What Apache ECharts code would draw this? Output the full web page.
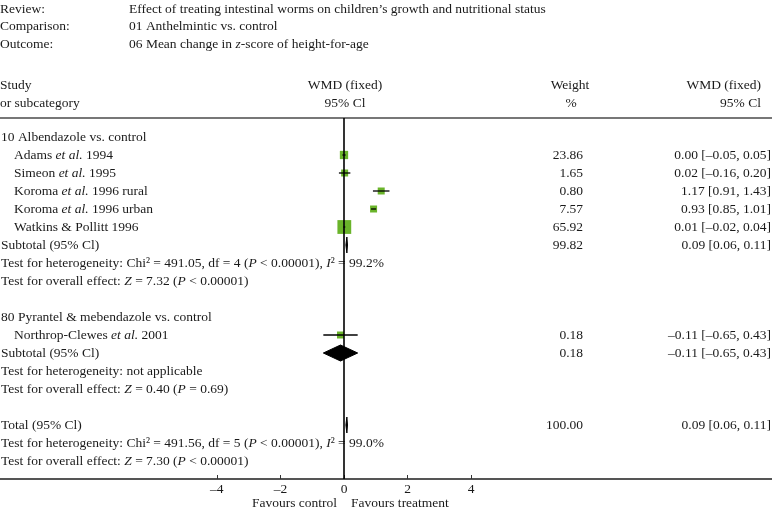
<!DOCTYPE html>
<html><head><meta charset="utf-8">
<script src="https://cdn.jsdelivr.net/npm/echarts@6/dist/echarts.min.js"></script>
<style>html,body{margin:0;padding:0;background:#fff}#c{width:772px;height:511px}</style>
</head><body><div id="c"></div>
<script>
// ---- data ----
const reviewText = 'Effect of treating intestinal worms on children’s growth and nutritional status';
const comparisonText = '01 Anthelmintic vs. control';
const outcomeText = '06 Mean change in z-score of height-for-age';
const studyNames = ['Adams et al. 1994','Simeon et al. 1995','Koroma et al. 1996 rural','Koroma et al. 1996 urban','Watkins & Pollitt 1996','Northrop-Clewes et al. 2001'];
const studyGroup = [0,0,0,0,0,1];
const studyWMD = [0.00,0.02,1.17,0.93,0.01,-0.11];
const studyLow = [-0.05,-0.16,0.91,0.85,-0.02,-0.65];
const studyHigh = [0.05,0.20,1.43,1.01,0.04,0.43];
const studyWeight = [23.86,1.65,0.80,7.57,65.92,0.18];
const groupNames = ['10 Albendazole vs. control','80 Pyrantel & mebendazole vs. control'];
const groupWMD = [0.09,-0.11];
const groupLow = [0.06,-0.65];
const groupHigh = [0.11,0.43];
const groupWeight = [99.82,0.18];
const groupHet = ['Test for heterogeneity: Chi² = 491.05, df = 4 (P < 0.00001), I² = 99.2%','Test for heterogeneity: not applicable'];
const groupOverall = ['Test for overall effect: Z = 7.32 (P < 0.00001)','Test for overall effect: Z = 0.40 (P = 0.69)'];
const totalWMD = 0.09, totalLow = 0.06, totalHigh = 0.11, totalWeight = 100.00;
const totalHet = 'Test for heterogeneity: Chi² = 491.56, df = 5 (P < 0.00001), I² = 99.0%';
const totalOverall = 'Test for overall effect: Z = 7.30 (P < 0.00001)';
const xTicks = [-4,-2,0,2,4];

// ---- layout / style ----
const FONT = 'Liberation Serif, Times New Roman, serif';
const FS = 13.5;
const TXT = '#1a1a1a';
const GREEN = '#6ab42a';
const ZERO_PX = 344, PX_UNIT = 31.8, W = 772;
const xMin = -ZERO_PX / PX_UNIT, xMax = (W - ZERO_PX) / PX_UNIT;

function num(v){ return (v < 0 ? '–' : '') + Math.abs(v).toFixed(2); }
function ciText(m,l,h){ return num(m) + ' [' + num(l) + ', ' + num(h) + ']'; }
function fmt(s){
  return s.replace(/et al\./g,'{it|et al.}')
          .replace(/\b([PZ])\b/g,'{it|$1}')
          .replace(/I²/g,'{it|I}²');
}

// build rows
const rows = [];
let r = 0;
groupNames.forEach((g, gi) => {
  rows.push({y:r++, text:g, indent:0});
  studyNames.forEach((s, si) => {
    if (studyGroup[si] !== gi) return;
    rows.push({y:r++, text:s, indent:13, weight:studyWeight[si].toFixed(2),
      ci:ciText(studyWMD[si],studyLow[si],studyHigh[si]),
      mark:{kind:'square', m:studyWMD[si], l:studyLow[si], h:studyHigh[si], w:studyWeight[si]}});
  });
  rows.push({y:r++, text:'Subtotal (95% Cl)', indent:0, weight:groupWeight[gi].toFixed(2),
    ci:ciText(groupWMD[gi],groupLow[gi],groupHigh[gi]),
    mark:{kind:'diamond', m:groupWMD[gi], l:groupLow[gi], h:groupHigh[gi]}});
  rows.push({y:r++, text:groupHet[gi], indent:0});
  rows.push({y:r++, text:groupOverall[gi], indent:0});
  r++;
});
rows.push({y:r++, text:'Total (95% Cl)', indent:0, weight:totalWeight.toFixed(2),
  ci:ciText(totalWMD,totalLow,totalHigh),
  mark:{kind:'diamond', m:totalWMD, l:totalLow, h:totalHigh}});
rows.push({y:r++, text:totalHet, indent:0});
rows.push({y:r++, text:totalOverall, indent:0});

const GRID_TOP = 118, GRID_BOTTOM = 32;
const ROW_PX = 18, FIRST_ROW_PX = 137;
const yMin = -(FIRST_ROW_PX - GRID_TOP) / ROW_PX;
const yMax = ((511 - GRID_BOTTOM) - FIRST_ROW_PX) / ROW_PX;

const richStyles = { it:{fontStyle:'italic', fontFamily:FONT, fontSize:FS, fill:TXT} };
function txt(x, y, text, align, rich){
  return {type:'text', x:x, y:y, style:{text: rich ? fmt(text) : text, fontFamily:FONT, fontSize:FS, fill:TXT,
    align:align, verticalAlign:'middle', rich: rich ? richStyles : undefined}};
}

const marks = rows.filter(d => d.mark);

const chart = echarts.init(document.getElementById('c'), null, {renderer:'canvas'});
const option = {
  animation:false,
  backgroundColor:'#fff',
  grid:{left:0, right:0, top:GRID_TOP, bottom:GRID_BOTTOM, containLabel:false},
  xAxis:[
    {type:'value', min:xMin, max:xMax, position:'bottom',
     axisLine:{show:true, onZero:false, lineStyle:{color:'#555', width:2}},
     axisTick:{show:true, inside:true, length:4, customValues:xTicks, lineStyle:{color:'#333', width:1}},
     axisLabel:{show:true, customValues:xTicks, margin:3, fontFamily:FONT, fontSize:FS, color:TXT,
       formatter:v => (v < 0 ? '–' + Math.abs(v) : String(v))},
     splitLine:{show:false}},
    {type:'value', min:xMin, max:xMax, position:'top',
     axisLine:{show:true, onZero:false, lineStyle:{color:'#777', width:2}},
     axisTick:{show:false}, axisLabel:{show:false}, splitLine:{show:false}}
  ],
  yAxis:{type:'value', inverse:true, min:yMin, max:yMax, show:false},
  series:[
    {type:'line', data:[], z:1, silent:true,
     markLine:{silent:true, symbol:'none', label:{show:false},
       lineStyle:{color:'#000', width:1.6, type:'solid'}, data:[{xAxis:0}]}},
    {type:'custom', z:3, silent:true, clip:false,
     data: marks.map(d => [d.mark.m, d.y]),
     renderItem:(params, api) => {
       const d = marks[params.dataIndex];
       const mk = d.mark;
       const c = api.coord([mk.m, d.y]);
       const pl = api.coord([mk.l, d.y]);
       const ph = api.coord([mk.h, d.y]);
       if (mk.kind === 'square') {
         const s = Math.max(7, 1.7 * Math.sqrt(mk.w));
         return {type:'group', children:[
           {type:'rect', shape:{x:c[0]-s/2, y:c[1]-s/2, width:s, height:s}, style:{fill:GREEN}},
           {type:'line', shape:{x1:pl[0], y1:c[1], x2:ph[0], y2:c[1]}, style:{stroke:'#000', lineWidth:1.3}}
         ]};
       }
       const hh = 8;
       return {type:'polygon', shape:{points:[[pl[0],c[1]],[c[0],c[1]-hh],[ph[0],c[1]],[c[0],c[1]+hh]]},
         style:{fill:'#000', stroke:'#000', lineWidth:1}};
     }},
    {type:'custom', z:2, silent:true, clip:false,
     data: rows.map(d => [0, d.y]),
     renderItem:(params, api) => {
       const d = rows[params.dataIndex];
       const y = api.coord([0, d.y])[1];
       const ch = [txt(1 + d.indent, y, d.text, 'left', true)];
       if (d.weight) ch.push(txt(583, y, d.weight, 'right', false));
       if (d.ci) ch.push(txt(771, y, d.ci, 'right', false));
       return {type:'group', children:ch};
     }}
  ],
  graphic:[]
};
chart.setOption(option);

const zeroPx = chart.convertToPixel({xAxisIndex:0}, 0);
function g(x, y, text, align, rich){
  return {type:'text', x:x, y:y, silent:true, style:{text: text, fontFamily:FONT, fontSize:FS, fill:TXT,
    align:align, verticalAlign:'middle', rich: rich ? richStyles : undefined}};
}
const hdr = [
  g(0, 9, 'Review:', 'left'), g(129, 9, reviewText, 'left'),
  g(0, 26, 'Comparison:', 'left'), g(129, 26, comparisonText, 'left'),
  g(0, 44, 'Outcome:', 'left'), g(129, 44, outcomeText.replace(/\bz-/,'{it|z}-'), 'left', true),
  g(0, 85, 'Study', 'left'), g(0, 103, 'or subcategory', 'left'),
  g(zeroPx + 1, 85, 'WMD (fixed)', 'center'), g(zeroPx + 1, 103, '95% Cl', 'center'),
  g(570, 85, 'Weight', 'center'), g(571, 103, '%', 'center'),
  g(761, 85, 'WMD (fixed)', 'right'), g(761, 103, '95% Cl', 'right'),
  g(zeroPx - 7, 503, 'Favours control', 'right'),
  g(zeroPx + 7, 503, 'Favours treatment', 'left')
];
chart.setOption({graphic:hdr});
</script>
</body></html>
